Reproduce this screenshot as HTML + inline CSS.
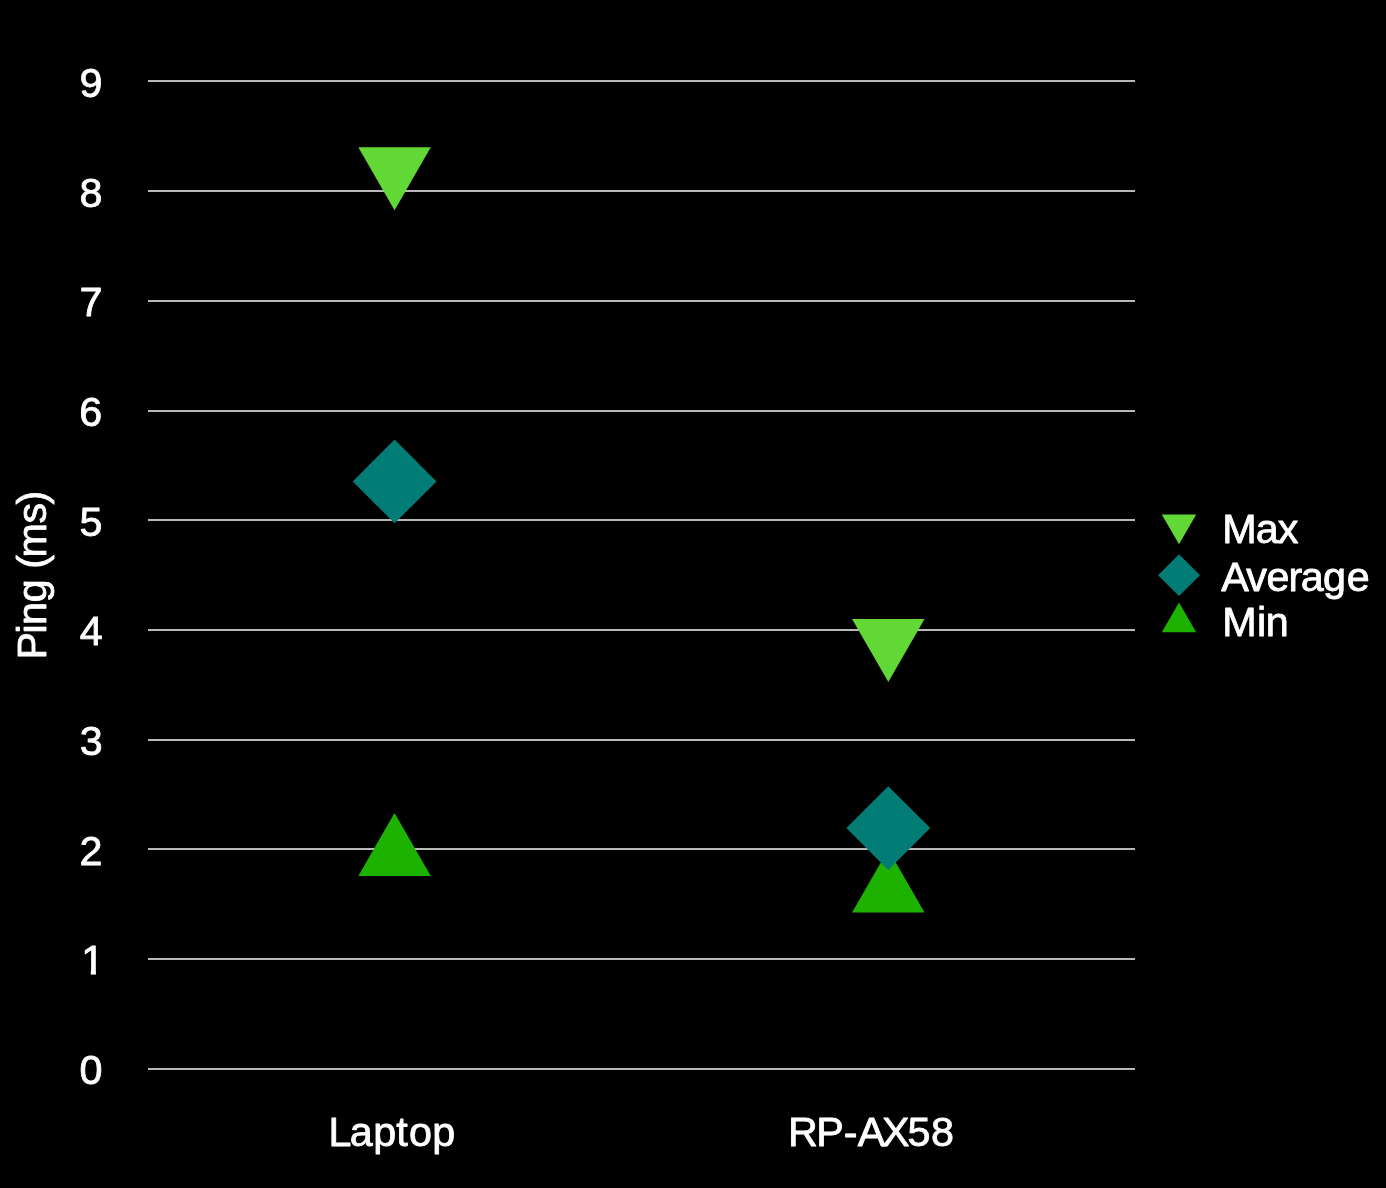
<!DOCTYPE html>
<html lang="en">
<head>
<meta charset="utf-8">
<title>Ping (ms)</title>
<style>
html,body{margin:0;padding:0;background:#000;}
body{width:1386px;height:1188px;overflow:hidden;}
svg{display:block;}
text{font-family:"Liberation Sans",Arial,Helvetica,sans-serif;font-size:41.3px;fill:#fff;stroke:#fff;stroke-width:0.8px;stroke-linejoin:round;}
</style>
</head>
<body>
<svg width="1386" height="1188" viewBox="0 0 1386 1188">
<rect x="0" y="0" width="1386" height="1188" fill="#000"/>
<g fill="#b8b8b6">
<rect x="148" y="80" width="987" height="2"/>
<rect x="148" y="190" width="987" height="2"/>
<rect x="148" y="300" width="987" height="2"/>
<rect x="148" y="410" width="987" height="2"/>
<rect x="148" y="519" width="987" height="2"/>
<rect x="148" y="629" width="987" height="2"/>
<rect x="148" y="739" width="987" height="2"/>
<rect x="148" y="848" width="987" height="2"/>
<rect x="148" y="958" width="987" height="2"/>
<rect x="148" y="1068" width="987" height="2"/>
</g>
<g>
<text x="79.53" y="96.94">9</text>
<text x="79.52" y="206.61">8</text>
<text x="79.50" y="316.29">7</text>
<text x="79.37" y="425.96">6</text>
<text x="79.56" y="535.63">5</text>
<text x="79.65" y="645.31">4</text>
<text x="79.64" y="754.98">3</text>
<text x="79.52" y="864.65">2</text>
<clipPath id="one"><path d="M60 934.32H130V969.54H95.90V976.32H90.85V969.54H60Z"/></clipPath>
<text x="81.16" y="974.32" clip-path="url(#one)">1</text>
<text x="79.52" y="1084.00">0</text>
</g>
<text transform="rotate(-90)" x="-659.43 -633.48 -624.91 -602.22 -597.22 -568.64 -557.51 -523.45 -504.62" y="45.9">Ping (ms)</text>
<text x="328.61 349.74 373.15 396.20 409.12 432.35" y="1145.6">Laptop</text>
<text x="787.91 816.20 843.77 857.83 881.90 907.41 931.02" y="1145.6">RP-AX58</text>
<polygon points="358.30,876.00 430.80,876.00 394.55,813.00" fill="#1db100"/>
<polygon points="352.70,481.40 394.60,439.50 436.50,481.40 394.60,523.30" fill="#017d76"/>
<polygon points="358.30,147.30 430.80,147.30 394.55,210.30" fill="#61d836"/>
<polygon points="852.05,912.50 924.55,912.50 888.30,849.50" fill="#1db100"/>
<polygon points="846.40,828.10 888.30,786.20 930.20,828.10 888.30,870.00" fill="#017d76"/>
<polygon points="852.05,618.90 924.55,618.90 888.30,681.90" fill="#61d836"/>
<polygon points="1161.80,514.50 1196.20,514.50 1179.00,544.30" fill="#61d836"/>
<polygon points="1158.05,575.15 1179.00,554.20 1199.95,575.15 1179.00,596.10" fill="#017d76"/>
<polygon points="1161.80,632.30 1196.20,632.30 1179.00,602.60" fill="#1db100"/>
<text x="1222.26 1255.74 1277.81" y="543.3">Max</text>
<text x="1221.13 1246.22 1266.61 1288.39 1300.64 1323.03 1346.71" y="590.5">Average</text>
<text x="1222.26 1257.02 1265.65" y="636.4">Min</text>
</svg>
</body>
</html>
